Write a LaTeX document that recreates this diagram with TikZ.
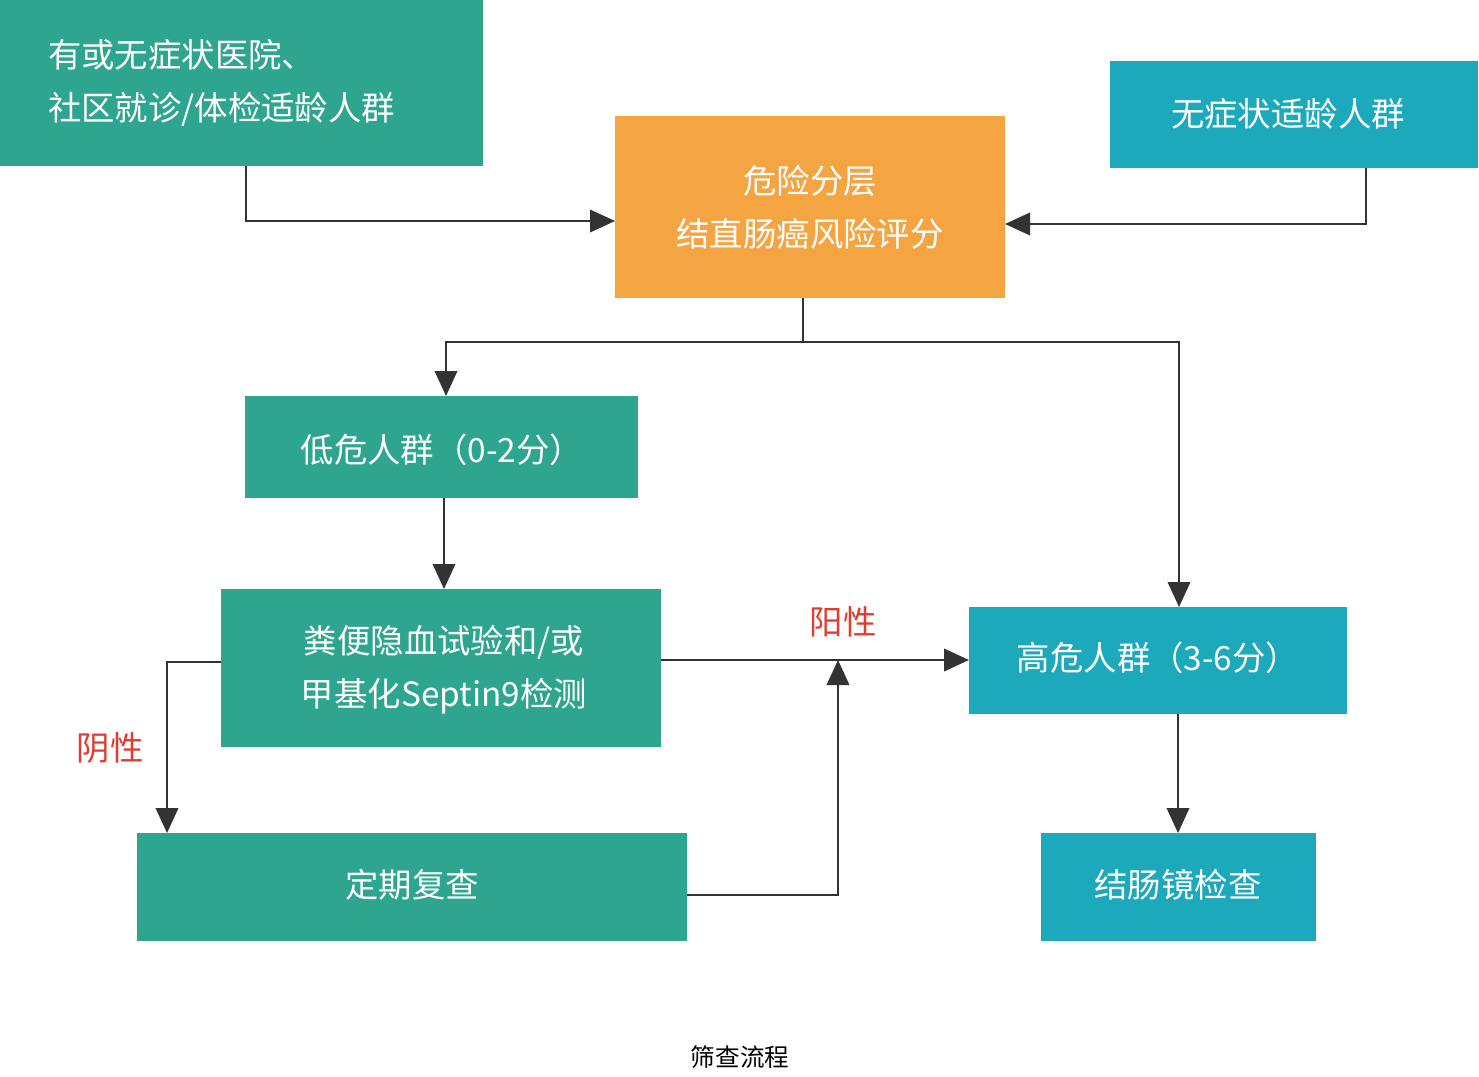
\documentclass[tikz,border=0pt]{standalone}
\usepackage{fontspec}
\setmainfont{Noto Sans CJK SC}
\usetikzlibrary{arrows.meta}
\definecolor{grn}{HTML}{2EA58F}
\definecolor{teal2}{HTML}{1DA9BC}
\definecolor{orng}{HTML}{F5A442}
\definecolor{line}{HTML}{333333}
\definecolor{redtxt}{HTML}{E03C31}
\begin{document}
\begin{tikzpicture}[
        x=0.02cm, y=-0.02cm,
        box/.style={draw=none, text=white, font=\fontsize{19}{30}\selectfont, align=center},
        arr/.style={draw=line, line width=1.2pt, -{Triangle[width=0.45cm,length=0.5cm]}},
        seg/.style={draw=line, line width=1.2pt},
        lab/.style={text=redtxt, font=\fontsize{19}{24}\selectfont}
    ]
        \useasboundingbox (0,0) rectangle (1479,1077);
        % Boxes
        \fill[grn] (0,0) rectangle (483,166);
        \node[box, align=left, anchor=west] (A) at (42,83) {有或无症状医院、\\社区就诊/体检适龄人群};
        \fill[orng] (615,116) rectangle (1005,298);
        \node[box] (B) at (810,207) {危险分层\\结直肠癌风险评分};
        \fill[teal2] (1110,61) rectangle (1478,168);
        \node[box] (C) at (1288,114) {无症状适龄人群};
        \fill[grn] (245,396) rectangle (638,498);
        \node[box] (D) at (442,450) {低危人群（0-2分）};
        \fill[grn] (221,589) rectangle (661,747);
        \node[box] (E) at (444,670) {粪便隐血试验和/或\\甲基化Septin9检测};
        \fill[teal2] (969,607) rectangle (1347,714);
        \node[box] (F) at (1158,658) {高危人群（3-6分）};
        \fill[grn] (137,833) rectangle (687,941);
        \node[box] (G) at (412,885) {定期复查};
        \fill[teal2] (1041,833) rectangle (1316,941);
        \node[box] (H) at (1178,885) {结肠镜检查};
        \node[font=\fontsize{14}{16}\selectfont] (cap) at (740,1057) {筛查流程};

        % Connectors
        \coordinate (pA) at (246,166);
        \coordinate (pBl) at (615,221);
        \coordinate (pC) at (1366,168);
        \coordinate (pBr) at (1005,224);
        \coordinate (pB) at (803,298);
        \coordinate (pDt) at (446,396);
        \coordinate (pFt) at (1179,607);
        \coordinate (pDb) at (444,498);
        \coordinate (pEt) at (444,589);
        \coordinate (pEr) at (661,660);
        \coordinate (pFl) at (969,660);
        \coordinate (pEl) at (221,662);
        \coordinate (pGt) at (167,833);
        \coordinate (pGr) at (687,895);
        \coordinate (pJ) at (838,660);
        \coordinate (pFb) at (1178,714);
        \coordinate (pHt) at (1178,833);

        \draw[arr] (pA) |- (pBl);
        \draw[arr] (pC) |- (pBr);
        \draw[seg] (pB) -- (803,342);
        \draw[arr] (803,342) -| (pDt);
        \draw[arr] (803,342) -| (pFt);
        \draw[arr] (pDb) -- (pEt);
        \draw[arr] (pEr) -- (pFl);
        \draw[arr] (pEl) -| (pGt);
        \draw[arr] (pGr) -| (pJ);
        \draw[arr] (pFb) -- (pHt);

        \node[lab] (pos) at (843,622) {阳性};
        \node[lab] (neg) at (110,748) {阴性};
    \end{tikzpicture}
\end{document}
